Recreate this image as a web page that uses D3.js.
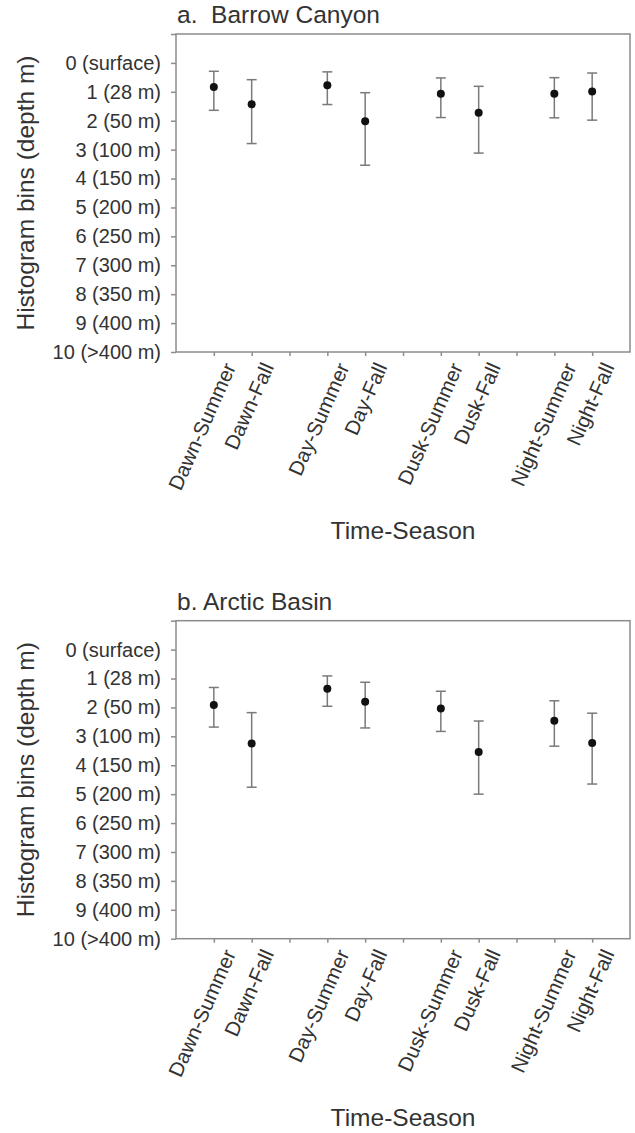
<!DOCTYPE html>
<html>
<head>
<meta charset="utf-8">
<script src="https://cdn.jsdelivr.net/npm/d3@7"></script>
<style>
  html, body { margin: 0; padding: 0; background: #fff; }
  svg { display: block; font-family: "Liberation Sans", Arial, Helvetica, sans-serif; }
</style>
</head>
<body>
<svg id="chart" width="635" height="1133"></svg>
<script>
// ---- data ----
const categories = ["Dawn-Summer", "Dawn-Fall", "Day-Summer", "Day-Fall",
                    "Dusk-Summer", "Dusk-Fall", "Night-Summer", "Night-Fall"];
// slot order on the x axis (blank slots separate time-of-day groups)
const xSlots = ["Dawn-Summer", "Dawn-Fall", "", "Day-Summer", "Day-Fall", " ",
                "Dusk-Summer", "Dusk-Fall", "  ", "Night-Summer", "Night-Fall"];
const yTickLabels = ["0 (surface)", "1 (28 m)", "2 (50 m)", "3 (100 m)", "4 (150 m)",
                     "5 (200 m)", "6 (250 m)", "7 (300 m)", "8 (350 m)", "9 (400 m)", "10 (>400 m)"];

const barrowTitle = "a.  Barrow Canyon";
const barrowMean  = [0.83, 1.43, 0.77, 2.02, 1.07, 1.72, 1.07, 0.99];
const barrowLow   = [0.29, 0.58, 0.31, 1.03, 0.52, 0.81, 0.51, 0.35];
const barrowHigh  = [1.64, 2.79, 1.44, 3.54, 1.89, 3.12, 1.90, 1.98];

const arcticTitle = "b. Arctic Basin";
const arcticMean  = [1.92, 3.25, 1.35, 1.80, 2.04, 3.54, 2.46, 3.23];
const arcticLow   = [1.31, 2.18, 0.91, 1.13, 1.44, 2.47, 1.77, 2.20];
const arcticHigh  = [2.68, 4.76, 1.96, 2.71, 2.83, 5.00, 3.34, 4.65];

const yAxisTitle = "Histogram bins (depth m)";
const xAxisTitle = "Time-Season";

// ---- drawing ----
const svg = d3.select("#chart");
const axisColor = "#8c8c8c";
const textColor = "#333";

function panel(top, title, mean, low, high) {
  const left = 176, right = 630, bottom = top + 318;
  const x = d3.scalePoint().domain(xSlots).range([left, right]).padding(1);
  const y = d3.scaleLinear().domain([-1, 10]).range([top, bottom]);
  const g = svg.append("g");

  // title
  g.append("text")
    .attr("x", 177).attr("y", top - 11)
    .attr("font-size", 24.5).attr("fill", textColor)
    .attr("xml:space", "preserve")
    .style("white-space", "pre")
    .text(title);

  // y axis
  const ya = g.append("g").attr("transform", `translate(${left},0)`)
    .call(d3.axisLeft(y).tickValues(d3.range(-1, 11)).tickSize(5).tickPadding(10)
      .tickFormat(v => v >= 0 ? yTickLabels[v] : ""));
  ya.select(".domain").remove();
  ya.selectAll(".tick line").attr("stroke", axisColor).attr("stroke-width", 1.5);
  ya.selectAll(".tick text").attr("font-size", 20).attr("fill", textColor)
    .attr("font-family", "Liberation Sans, Arial, sans-serif");

  // x axis
  const xa = g.append("g").attr("transform", `translate(0,${bottom})`)
    .call(d3.axisBottom(x).tickSize(4).tickFormat(""));
  xa.select(".domain").remove();
  xa.selectAll(".tick line").attr("stroke", axisColor).attr("stroke-width", 1.5);

  xa.selectAll(".xlab")
    .data(categories).enter().append("text")
    .attr("class", "xlab")
    .attr("transform", d => `translate(${x(d) + 16},${12}) rotate(-66)`)
    .attr("text-anchor", "end")
    .attr("dy", "0.35em")
    .attr("font-size", 20.5).attr("fill", textColor)
    .text(d => d);

  // frame
  g.append("rect")
    .attr("x", left).attr("y", top)
    .attr("width", right - left).attr("height", bottom - top)
    .attr("fill", "none").attr("stroke", axisColor).attr("stroke-width", 1.5);

  // error bars
  const eb = g.append("g");
  categories.forEach((c, i) => {
    const cx = x(c);
    eb.append("line").attr("x1", cx).attr("x2", cx)
      .attr("y1", y(low[i])).attr("y2", y(high[i]))
      .attr("stroke", "#7a7a7a").attr("stroke-width", 1.5);
    [low[i], high[i]].forEach(v => {
      eb.append("line").attr("x1", cx - 5).attr("x2", cx + 5)
        .attr("y1", y(v)).attr("y2", y(v))
        .attr("stroke", "#7a7a7a").attr("stroke-width", 1.5);
    });
  });
  g.append("g").selectAll("circle").data(mean).enter().append("circle")
    .attr("cx", (d, i) => x(categories[i]))
    .attr("cy", d => y(d))
    .attr("r", 4)
    .attr("fill", "#111");

  // axis titles
  g.append("text")
    .attr("transform", `translate(34,${(top + bottom) / 2}) rotate(-90)`)
    .attr("text-anchor", "middle")
    .attr("font-size", 24.5).attr("fill", textColor)
    .text(yAxisTitle);
  g.append("text")
    .attr("x", (left + right) / 2).attr("y", bottom + 187)
    .attr("text-anchor", "middle")
    .attr("font-size", 24.5).attr("fill", textColor)
    .text(xAxisTitle);
}

panel(34, barrowTitle, barrowMean, barrowLow, barrowHigh);
panel(620.7, arcticTitle, arcticMean, arcticLow, arcticHigh);
</script>
</body>
</html>
